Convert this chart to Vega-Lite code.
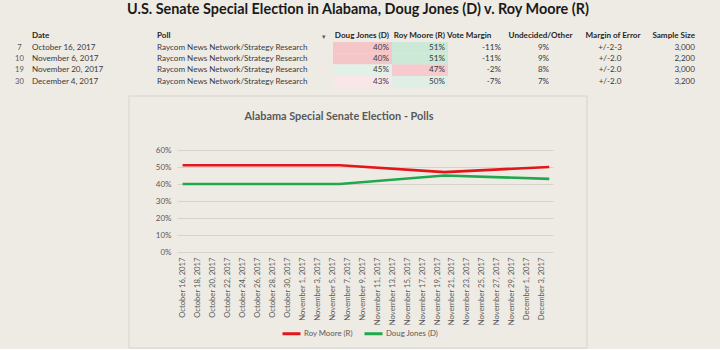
{
  "$schema": "https://vega.github.io/schema/vega-lite/v6.json",
  "padding": {"left": 8, "top": 1, "right": 0, "bottom": 0},
  "background": "#EEEBE5",
  "title": {"text": "U.S. Senate Special Election in Alabama, Doug Jones (D) v. Roy Moore (R)", "fontSize": 14.4, "font": "Lato", "fontWeight": "bold", "color": "#1A1A1A", "anchor": "middle", "dx": -6, "offset": 15},
  "datasets": {
    "table": [
      {"row": 7, "Date": "October 16, 2017", "Poll": "Raycom News Network/Strategy Research", "Jones": 0.40, "Moore": 0.51, "Margin": -0.11, "Undecided": 0.09, "MoE": "+/-2-3", "Sample": 3000},
      {"row": 10, "Date": "November 6, 2017", "Poll": "Raycom News Network/Strategy Research", "Jones": 0.40, "Moore": 0.51, "Margin": -0.11, "Undecided": 0.09, "MoE": "+/-2.0", "Sample": 2200},
      {"row": 19, "Date": "November 20, 2017", "Poll": "Raycom News Network/Strategy Research", "Jones": 0.45, "Moore": 0.47, "Margin": -0.02, "Undecided": 0.08, "MoE": "+/-2.0", "Sample": 3000},
      {"row": 30, "Date": "December 4, 2017", "Poll": "Raycom News Network/Strategy Research", "Jones": 0.43, "Moore": 0.50, "Margin": -0.07, "Undecided": 0.07, "MoE": "+/-2.0", "Sample": 3200}
    ],
    "polls": [
      {"date": "2017-10-16T00:00", "candidate": "Roy Moore (R)", "pct": 0.51},
      {"date": "2017-11-06T00:00", "candidate": "Roy Moore (R)", "pct": 0.51},
      {"date": "2017-11-20T00:00", "candidate": "Roy Moore (R)", "pct": 0.47},
      {"date": "2017-12-04T00:00", "candidate": "Roy Moore (R)", "pct": 0.50},
      {"date": "2017-10-16T00:00", "candidate": "Doug Jones (D)", "pct": 0.40},
      {"date": "2017-11-06T00:00", "candidate": "Doug Jones (D)", "pct": 0.40},
      {"date": "2017-11-20T00:00", "candidate": "Doug Jones (D)", "pct": 0.45},
      {"date": "2017-12-04T00:00", "candidate": "Doug Jones (D)", "pct": 0.43}
    ]
  },
  "spacing": 7,
  "resolve": {"scale": {"fill": "independent", "color": "independent"}, "legend": {"fill": "independent", "color": "independent"}},
  "vconcat": [
    {
      "bounds": "flush",
      "spacing": 0,
      "data": {"name": "table"},
      "resolve": {"scale": {"fill": "independent"}, "legend": {"fill": "independent"}},
      "hconcat": [
        {
          "width": 23, "height": 45.2,
          "mark": {"type": "text", "fontSize": 7.6, "color": "#595959"},
          "encoding": {
            "y": {"field": "row", "type": "ordinal", "sort": null, "axis": null, "scale": {"paddingInner": 0, "paddingOuter": 0}},
            "text": {"field": "row"}
          }
        },
        {
          "width": 126, "height": 45.2,
          "title": {"text": "Date", "anchor": "start", "dx": 1},
          "mark": {"type": "text", "align": "left", "x": 0, "dx": 1},
          "encoding": {
            "y": {"field": "row", "type": "ordinal", "sort": null, "axis": null, "scale": {"paddingInner": 0, "paddingOuter": 0}},
            "text": {"field": "Date"}
          }
        },
        {
          "width": 165, "height": 45.2,
          "title": {"text": "Poll", "anchor": "start"},
          "mark": {"type": "text", "align": "left", "x": 0},
          "encoding": {
            "y": {"field": "row", "type": "ordinal", "sort": null, "axis": null, "scale": {"paddingInner": 0, "paddingOuter": 0}},
            "text": {"field": "Poll"}
          }
        },
        {
          "width": 11, "height": 45.2,
          "title": {"text": "▾", "anchor": "start", "font": "DejaVu Sans", "fontSize": 7, "fontWeight": "normal", "color": "#606060"},
          "mark": {"type": "text"},
          "encoding": {
            "y": {"field": "row", "type": "ordinal", "sort": null, "axis": null, "scale": {"paddingInner": 0, "paddingOuter": 0}},
            "text": {"value": ""}
          }
        },
        {
          "width": 59, "height": 45.2,
          "title": {"text": "Doug Jones (D)", "anchor": "end", "dx": -3},
          "encoding": {
            "y": {"field": "row", "type": "ordinal", "sort": null, "axis": null, "scale": {"paddingInner": 0, "paddingOuter": 0}}
          },
          "layer": [
            {"mark": {"type": "rect"}, "encoding": {"fill": {"field": "Jones", "type": "quantitative", "legend": null, "scale": {"domain": [0.40, 0.43, 0.45], "range": ["#F4C6C8", "#F9E6E8", "#E2F1E7"], "interpolate": "rgb"}}}},
            {"mark": {"type": "text", "align": "right", "x": "width", "dx": -3}, "encoding": {"text": {"field": "Jones", "format": ".0%"}}}
          ]
        },
        {
          "width": 56, "height": 45.2,
          "title": {"text": "Roy Moore (R)", "anchor": "end", "dx": -3},
          "encoding": {
            "y": {"field": "row", "type": "ordinal", "sort": null, "axis": null, "scale": {"paddingInner": 0, "paddingOuter": 0}}
          },
          "layer": [
            {"mark": {"type": "rect"}, "encoding": {"fill": {"field": "Moore", "type": "quantitative", "legend": null, "scale": {"domain": [0.47, 0.50, 0.51], "range": ["#F6CACE", "#E0EFE5", "#CCE8D6"], "interpolate": "rgb"}}}},
            {"mark": {"type": "text", "align": "right", "x": "width", "dx": -3}, "encoding": {"text": {"field": "Moore", "format": ".0%"}}}
          ]
        },
        {
          "width": 55, "height": 45.2,
          "title": {"text": "Vote Margin", "anchor": "start", "dx": -1},
          "mark": {"type": "text", "align": "right", "x": "width", "dx": -2},
          "encoding": {
            "y": {"field": "row", "type": "ordinal", "sort": null, "axis": null, "scale": {"paddingInner": 0, "paddingOuter": 0}},
            "text": {"field": "Margin", "format": ".0%"}
          }
        },
        {
          "width": 75, "height": 45.2,
          "title": {"text": "Undecided/Other", "anchor": "middle"},
          "mark": {"type": "text", "dx": 3},
          "encoding": {
            "y": {"field": "row", "type": "ordinal", "sort": null, "axis": null, "scale": {"paddingInner": 0, "paddingOuter": 0}},
            "text": {"field": "Undecided", "format": ".0%"}
          }
        },
        {
          "width": 68, "height": 45.2,
          "title": {"text": "Margin of Error", "anchor": "middle", "dx": 1},
          "mark": {"type": "text", "dx": -2},
          "encoding": {
            "y": {"field": "row", "type": "ordinal", "sort": null, "axis": null, "scale": {"paddingInner": 0, "paddingOuter": 0}},
            "text": {"field": "MoE"}
          }
        },
        {
          "width": 74, "height": 45.2,
          "title": {"text": "Sample Size", "anchor": "end", "dx": -25},
          "mark": {"type": "text", "align": "right", "x": "width", "dx": -25},
          "encoding": {
            "y": {"field": "row", "type": "ordinal", "sort": null, "axis": null, "scale": {"paddingInner": 0, "paddingOuter": 0}},
            "text": {"field": "Sample", "format": ","}
          }
        }
      ]
    },
    {
      "spacing": 0,
      "resolve": {"scale": {"color": "independent"}, "legend": {"color": "independent"}},
      "hconcat": [
        {
          "width": 120, "height": 10,
          "data": {"values": [{}]},
          "mark": {"type": "text"},
          "encoding": {"text": {"value": ""}}
        },
        {
          "width": 376, "height": 102,
          "title": {"text": "Alabama Special Senate Election - Polls", "fontSize": 10.9, "color": "#595959", "fontWeight": "bold", "anchor": "middle", "frame": "group", "dx": -26, "offset": -26},
          "layer": [
            {
              "data": {"name": "polls"},
              "mark": {"type": "line", "strokeWidth": 2.6},
              "encoding": {
                "x": {
                  "field": "date", "type": "temporal",
                  "scale": {"domain": [{"year": 2017, "month": 10, "date": 15, "hours": 6}, {"year": 2017, "month": 12, "date": 4, "hours": 12}]},
                  "axis": {
                    "values": [
                      {"year": 2017, "month": 10, "date": 16}, {"year": 2017, "month": 10, "date": 18}, {"year": 2017, "month": 10, "date": 20}, {"year": 2017, "month": 10, "date": 22},
                      {"year": 2017, "month": 10, "date": 24}, {"year": 2017, "month": 10, "date": 26}, {"year": 2017, "month": 10, "date": 28}, {"year": 2017, "month": 10, "date": 30},
                      {"year": 2017, "month": 11, "date": 1}, {"year": 2017, "month": 11, "date": 3}, {"year": 2017, "month": 11, "date": 5}, {"year": 2017, "month": 11, "date": 7},
                      {"year": 2017, "month": 11, "date": 9}, {"year": 2017, "month": 11, "date": 11}, {"year": 2017, "month": 11, "date": 13}, {"year": 2017, "month": 11, "date": 15},
                      {"year": 2017, "month": 11, "date": 17}, {"year": 2017, "month": 11, "date": 19}, {"year": 2017, "month": 11, "date": 21}, {"year": 2017, "month": 11, "date": 23},
                      {"year": 2017, "month": 11, "date": 25}, {"year": 2017, "month": 11, "date": 27}, {"year": 2017, "month": 11, "date": 29}, {"year": 2017, "month": 12, "date": 1},
                      {"year": 2017, "month": 12, "date": 3}
                    ],
                    "tickCount": 40,
                    "format": "%B %-d, %Y", "labelAngle": -90, "labelFontSize": 7.7, "labelColor": "#595959",
                    "ticks": false, "domain": false, "grid": false, "title": null, "labelPadding": 5,
                    "labelOverlap": false, "labelFlush": false, "labelBound": false
                  }
                },
                "y": {
                  "field": "pct", "type": "quantitative",
                  "scale": {"domain": [0, 0.6], "nice": false},
                  "axis": {"values": [0, 0.1, 0.2, 0.3, 0.4, 0.5, 0.6], "tickCount": 10, "format": ".0%", "labelFontSize": 8, "labelColor": "#595959", "domain": false, "ticks": false, "grid": true, "gridColor": "#D6D3CD", "title": null, "labelPadding": 6, "labelOverlap": false}
                },
                "color": {
                  "field": "candidate", "type": "nominal",
                  "scale": {"domain": ["Roy Moore (R)", "Doug Jones (D)"], "range": ["#E2161B", "#21A84D"]},
                  "legend": {"orient": "none", "legendX": 104, "legendY": 173, "direction": "horizontal", "title": null, "symbolType": "stroke", "symbolSize": 324, "symbolStrokeWidth": 3, "labelFontSize": 7.8, "labelColor": "#595959", "columnPadding": 5, "labelOffset": 2}
                }
              }
            },
            {
              "data": {"values": [{"frame": "chart area"}]},
              "mark": {"type": "rect", "fill": null, "stroke": "#D6D3CC", "strokeWidth": 1},
              "encoding": {
                "x": {"datum": {"year": 2017, "month": 10, "date": 8, "hours": 20}, "type": "temporal"},
                "x2": {"datum": {"year": 2017, "month": 12, "date": 9, "hours": 1}},
                "y": {"datum": 0.9176, "type": "quantitative"},
                "y2": {"datum": -0.565}
              }
            }
          ]
        }
      ]
    }
  ],
  "config": {
    "font": "Lato",
    "view": {"stroke": null},
    "text": {"font": "Lato", "fontSize": 8.1, "color": "#3A3A3A"},
    "title": {"font": "Lato", "fontSize": 8.1, "fontWeight": "bold", "color": "#262626", "offset": 2},
    "axis": {"labelFont": "Lato", "labelOverlap": false},
    "legend": {"labelFont": "Lato"},
    "locale": {"number": {"decimal": ".", "thousands": ",", "grouping": [3], "currency": ["$", ""], "minus": "-"}}
  }
}
